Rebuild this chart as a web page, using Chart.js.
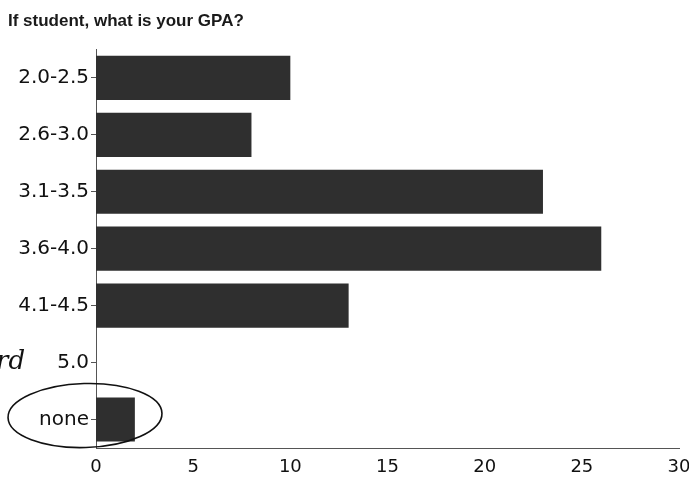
<!DOCTYPE html>
<html>
<head>
<meta charset="utf-8">
<script src="https://cdn.jsdelivr.net/npm/chart.js@4.4.1/dist/chart.umd.min.js"></script>
<style>
  html, body { margin: 0; padding: 0; background: #fff; }
  #wrap { width: 689px; height: 480px; }
</style>
</head>
<body>
<div id="wrap"><canvas id="gpaChart" width="689" height="480"></canvas></div>
<script>
// data
const gpaCategories = ['2.0-2.5', '2.6-3.0', '3.1-3.5', '3.6-4.0', '4.1-4.5', '5.0', 'none'];
const gpaCounts = [10, 8, 23, 26, 13, 0, 2];
const xTickValues = [0, 5, 10, 15, 20, 25, 30];

// hand-drawn circle around "none" and the cut-off note in the margin
const handNotes = {
    id: 'handNotes',
    afterDraw(chart) {
        const { ctx, scales } = chart;
        const y = scales.y.getPixelForValue(gpaCategories.length - 1);
        const x0 = scales.x.getPixelForValue(0);
        ctx.save();
        ctx.strokeStyle = '#111';
        ctx.lineWidth = 1.6;
        ctx.beginPath();
        ctx.ellipse(x0 - 11, y - 4, 77, 32, -0.03, 0, Math.PI * 2);
        ctx.stroke();
        ctx.font = 'italic 26px "DejaVu Serif"';
        ctx.fillStyle = '#111';
        ctx.fillText('rd', -4, scales.y.getPixelForValue(5) + 6);
        ctx.restore();
    }
};

const ctx = document.getElementById('gpaChart').getContext('2d');
new Chart(ctx, {
    type: 'bar',
    data: {
        labels: gpaCategories,
        datasets: [{
            data: gpaCounts,
            backgroundColor: '#2f2f2f',
            borderWidth: 0,
            categoryPercentage: 0.8,
            barPercentage: 0.97
        }]
    },
    options: {
        indexAxis: 'y',
        responsive: false,
        animation: false,
        layout: { padding: { left: 8, right: 0, top: 0, bottom: 0 } },
        plugins: {
            legend: { display: false },
            tooltip: { enabled: false },
            title: {
                display: true,
                text: 'If student, what is your GPA?',
                align: 'start',
                color: '#1a1a1a',
                font: { family: '"Liberation Sans", Arial', size: 17, weight: 'bold' },
                padding: { top: 11, bottom: 18 }
            }
        },
        scales: {
            x: {
                min: 0,
                max: 30,
                afterBuildTicks: (scale) => { scale.ticks = xTickValues.map(v => ({ value: v })); },
                grid: { display: false, drawTicks: true, tickLength: 4 },
                border: { display: true, color: '#555', width: 1 },
                ticks: {
                    color: '#111',
                    padding: 5,
                    font: { family: '"DejaVu Sans"', size: 18 }
                },
                afterFit: (scale) => { scale.height = 32; scale.paddingRight = 10; }
            },
            y: {
                grid: { drawOnChartArea: false, offset: false, tickLength: 5, color: '#555' },
                border: { display: true, color: '#555', width: 1 },
                ticks: {
                    color: '#111',
                    padding: 2,
                    font: { family: '"DejaVu Sans"', size: 20 }
                },
                afterFit: (scale) => { scale.width = 88; }
            }
        }
    },
    plugins: [handNotes]
});
</script>
</body>
</html>
